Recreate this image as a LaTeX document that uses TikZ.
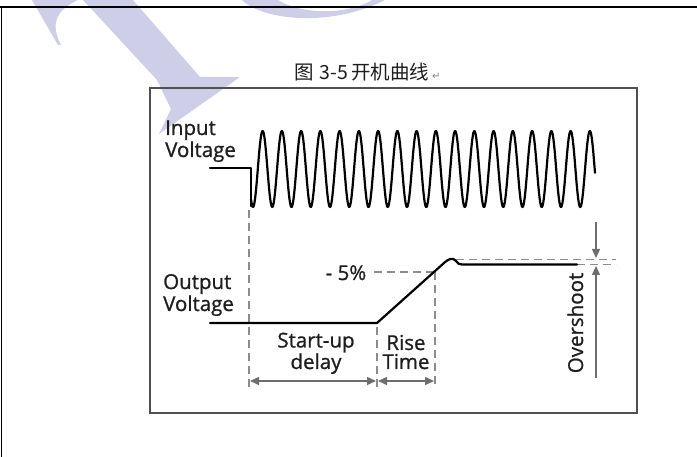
\documentclass[tikz,border=0pt]{standalone}
\usepackage{fontspec}
\setmainfont{Open Sans}[BoldFont={Open Sans}, BoldFeatures={FakeBold=0.9}]
\newfontfamily\cjkfont{Noto Sans CJK SC}
\newfontfamily\symfont{DejaVu Sans}
\usetikzlibrary{arrows.meta}
\definecolor{wmark}{RGB}{206,206,232}
\definecolor{boxgray}{RGB}{80,80,80}
\definecolor{dashgray}{RGB}{140,140,140}
\definecolor{arrgray}{RGB}{110,110,110}
\definecolor{txt}{RGB}{30,30,30}
\tikzset{
  wave/.style={black, line width=2.2pt, line join=round, line cap=round},
  guide/.style={dashgray, line width=1.3pt, dash pattern=on 8pt off 5pt},
  dimarrow/.style={arrgray, line width=1.4pt, {Triangle[length=9pt,width=8pt]}-{Triangle[length=9pt,width=8pt]}},
  onearrow/.style={arrgray, line width=1.4pt, -{Triangle[length=9pt,width=8pt]}},
  lbl/.style={inner sep=0pt, font=\fontsize{20.5}{22}\selectfont\bfseries, text=txt},
}
\begin{document}
\begin{tikzpicture}[x=1pt, y=-1pt]
\useasboundingbox (0,0) rectangle (697,457);
% watermark
\fill[wmark] (32,0) -- (78,0) .. controls (56,10) and (50,24) .. (61,45) -- (58,45) .. controls (48,28) and (40,14) .. cycle;
\fill[wmark] (83,0) -- (133,0) -- (200,77) -- (240,77) -- (159,134) -- (171,109) -- (157,80) -- cycle;
\fill[wmark] (242,0) .. controls (262,20) and (330,28) .. (385,0) -- (372,0) .. controls (345,16) and (300,14) .. (278,0) -- cycle;
% outer frame
\draw[black, line width=1.8pt] (0,7) -- (697,7);
\draw[black, line width=1.8pt] (1.5,7) -- (1.5,457);
% title
\node[inner sep=0pt, anchor=base west, text=txt] (title) at (294,80)
  {\cjkfont\fontsize{19.5}{20}\selectfont 图\hspace{6pt}3-5\hspace{3pt}开机曲线\textcolor{gray}{\symfont\fontsize{10}{10}\selectfont\hspace{3pt}↵}};
% diagram box
\draw[boxgray, line width=1.6pt] (150,88) rectangle (637,413);
% labels (anchor = baseline of last line)
\node[lbl, anchor=base west, align=left, font=\fontsize{20.5}{22}\selectfont\bfseries] (inlbl) at (165,157) {Input\\Voltage};
\node[lbl, anchor=base west, align=left, font=\fontsize{20.5}{22}\selectfont\bfseries] (outlbl) at (163,311) {Output\\Voltage};
\node[lbl, anchor=base] (pct) at (346,280) {- 5\%};
\node[lbl, anchor=base, align=center, font=\fontsize{20.5}{19}\selectfont\bfseries] (sulbl) at (316,369) {Start-up\\delay};
\node[lbl, anchor=base, align=center, font=\fontsize{20.5}{19}\selectfont\bfseries] (rtlbl) at (406,369) {Rise\\Time};
\node[lbl, anchor=base, rotate=90] (os) at (583,323) {Overshoot};
% guides
\draw[guide] (249,210) -- (249,388);
\draw[guide] (377,327) -- (377,388);
\draw[guide] (435,272) -- (435,388);
\draw[guide] (374,272) -- (435,272);
\draw[guide] (456,259.5) -- (616,259.5);
\draw[guide] (577,264.5) -- (616,264.5);
% input waveform
\draw[wave] (210,168) -- (251,168) -- (251,206);
\draw[wave] plot[domain=251:595, samples=900, smooth] (\x, {169+38*cos(18.7013*(\x-253))});
% output waveform
\draw[wave] (210,323) -- (377,323) -- (444,263) .. controls (448,259) and (453,257) .. (456,261) .. controls (458,263.5) and (459,264.5) .. (462,264.5) -- (577,264.5);
% dimension arrows
\coordinate (a1) at (250,381);
\coordinate (a2) at (376,381);
\coordinate (a3) at (378,381);
\coordinate (a4) at (434,381);
\draw[dimarrow] (a1) -- (a2);
\draw[dimarrow] (a3) -- (a4);
\coordinate (o1) at (596,222);
\coordinate (o2) at (596,258);
\coordinate (o3) at (596,378);
\coordinate (o4) at (596,266);
\draw[onearrow] (o1) -- (o2);
\draw[onearrow] (o3) -- (o4);
\end{tikzpicture}
\end{document}
